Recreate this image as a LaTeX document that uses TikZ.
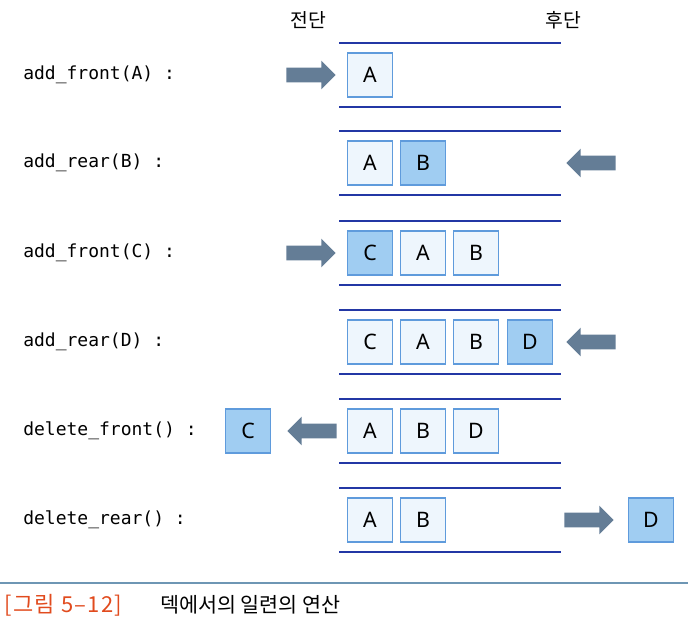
\documentclass[tikz,border=0pt]{standalone}
\usepackage{fontspec}
\setsansfont{Noto Sans}
\setmonofont{DejaVu Sans Mono}
\newfontfamily\krfont{Noto Sans CJK KR}
\newfontfamily\krwide[LetterSpace=6]{Noto Sans CJK KR}
\usepackage{tikz}
\usetikzlibrary{shapes.arrows, positioning}
\definecolor{dequeblue}{RGB}{35,55,165}
\definecolor{cellline}{RGB}{95,155,220}
\definecolor{cellpale}{RGB}{238,246,253}
\definecolor{cellnew}{RGB}{160,205,242}
\definecolor{pushgray}{RGB}{100,125,150}
\definecolor{figred}{RGB}{225,75,30}
\definecolor{ruleblue}{RGB}{110,150,180}

\begin{document}
\begin{tikzpicture}[x=0.75pt, y=-0.75pt,
  cell/.style={draw=cellline, fill=cellpale, line width=0.8pt, minimum width=34pt, minimum height=33pt, inner sep=0pt, font=\sffamily\fontsize{16}{16}\selectfont},
  newcell/.style={cell, fill=cellnew},
  op/.style={anchor=west, inner sep=0pt, font=\ttfamily\fontsize{13.5}{14}\selectfont},
  push/.style={single arrow, fill=pushgray, draw=none, inner xsep=0pt, inner ysep=5.25pt, minimum height=37pt, single arrow head extend=5.25pt, anchor=tip},
  rail/.style={draw=dequeblue, line width=1.3pt}]
 \useasboundingbox (0,0) rectangle (688,621);
 % ends of the deque
 \node[font=\krfont\fontsize{14.5}{15}\selectfont] (front) at (308,20) {전단};
 \node[font=\krfont\fontsize{14.5}{15}\selectfont] (rear) at (563,20) {후단};
 % rails of every row
 \foreach \y in {75,163,253,342,431,520}{
   \draw[rail] (339,\y-32) -- (561,\y-32);
   \draw[rail] (339,\y+32) -- (561,\y+32);
 }
 % operations
 \node[op] (op1) at (23,75) {add\_front(A) :};
 \node[op] (op2) at (23,163) {add\_rear(B) :};
 \node[op] (op3) at (23,253) {add\_front(C) :};
 \node[op] (op4) at (23,342) {add\_rear(D) :};
 \node[op] (op5) at (23,431) {delete\_front() :};
 \node[op] (op6) at (23,520) {delete\_rear() :};
 % row 1
 \node[push] (in1) at (336,75) {};
 \node[cell] (a1) at (370,75) {A};
 % row 2
 \node[cell] (a2) at (370,163) {A};
 \node[newcell] (b2) at (423,163) {B};
 \node[push, shape border rotate=180] (in2) at (566,163) {};
 % row 3
 \node[push] (in3) at (336,253) {};
 \node[newcell] (c3) at (370,253) {C};
 \node[cell] (a3) at (423,253) {A};
 \node[cell] (b3) at (476,253) {B};
 % row 4
 \node[cell] (c4) at (370,342) {C};
 \node[cell] (a4) at (423,342) {A};
 \node[cell] (b4) at (476,342) {B};
 \node[newcell] (d4) at (530,342) {D};
 \node[push, shape border rotate=180] (in4) at (566,342) {};
 % row 5
 \node[newcell] (c5) at (248,431) {C};
 \node[push, shape border rotate=180] (out5) at (287,431) {};
 \node[cell] (a5) at (370,431) {A};
 \node[cell] (b5) at (423,431) {B};
 \node[cell] (d5) at (476,431) {D};
 % row 6
 \node[cell] (a6) at (370,520) {A};
 \node[cell] (b6) at (423,520) {B};
 \node[push] (out6) at (614,520) {};
 \node[newcell] (d6) at (651,520) {D};
 % caption
 \draw[ruleblue, line width=0.8pt] (0,583) -- (688,583);
 \node[anchor=west, inner sep=0pt, text=figred, font=\krwide\fontsize{16.5}{17}\selectfont] (fignum) at (4,605) {[그림 5–12]};
 \node[anchor=west, inner sep=0pt, font=\krfont\fontsize{15.5}{16}\selectfont] (figtitle) at (160,605) {덱에서의 일련의 연산};
\end{tikzpicture}
\end{document}
